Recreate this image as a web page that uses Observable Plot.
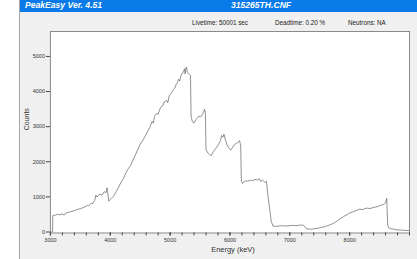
<!DOCTYPE html>
<html>
<head>
<meta charset="utf-8">
<script src="https://cdn.jsdelivr.net/npm/d3@7"></script>
<script src="https://cdn.jsdelivr.net/npm/@observablehq/plot@0.6"></script>
<style>
  html, body { margin: 0; padding: 0; background: #ffffff; }
  #win { position: absolute; left: 19px; top: 0; width: 398px; height: 259px; background: #f0f0f0; border-left: 1px solid #a8a8a8; box-sizing: border-box; font-family: "Liberation Sans", Arial, sans-serif; }
  #bar { position: absolute; left: 0; top: 0; width: 100%; height: 12px; background: #0a7ae8; color: #fff; font-style: italic; font-weight: bold; font-size: 8.6px; }
  #bar .l { position: absolute; left: 5px; top: 0px; }
  #bar .c { position: absolute; left: 241px; top: 0px; transform: translateX(-50%); }
  #info { position: absolute; left: 0; top: 12px; width: 100%; height: 18px; font-size: 6.3px; color: #222; }
  #info span { position: absolute; top: 7px; white-space: nowrap; }
  #chart { position: absolute; left: 0; top: 30px; }
</style>
</head>
<body>
<div id="win">
  <div id="bar"><span class="l">PeakEasy Ver. 4.51</span><span class="c">315265TH.CNF</span></div>
  <div id="info">
    <span style="left:172px">Livetime: 50001 sec</span>
    <span style="left:255px">Deadtime: 0.20 %</span>
    <span style="left:328px">Neutrons: NA</span>
  </div>
  <div id="chart"></div>
</div>
<script>
const energy = [3000,3035,3040,3080,3120,3160,3200,3230,3260,3300,3340,3380,3420,3460,3500,3540,3580,3620,3640,3680,3700,3740,3760,3780,3820,3860,3900,3930,3945,3960,3975,3990,4020,4060,4100,4140,4180,4220,4260,4300,
4340,4380,4420,4460,4500,4540,4580,4620,4660,4700,4720,4740,4780,4800,4840,4880,4900,4940,4960,4990,5020,5050,5080,5100,5120,5140,5160,5180,5200,5220,5240,5250,5270,5290,5310,5340,
5350,5370,5400,5430,5460,5480,5510,5540,5560,5575,5590,5600,5630,5660,5690,5720,5750,5780,5810,5840,5860,5880,5900,5920,5950,5980,6010,6040,6070,6100,6130,6160,6180,
6190,6210,6230,6260,6300,6340,6380,6420,6460,6490,6510,6540,6580,6610,6630,6660,6690,6720,6780,6850,6920,7000,7060,7120,7180,7230,7280,7350,7420,7500,7580,7650,7720,7780,7840,7900,7960,8000,8060,8100,8160,8220,8280,8340,8400,8460,8520,8570,8600,8620,8635,8650,8700,8800,8900,9000];
const counts = [0,0,470,480,500,490,520,480,540,560,580,600,620,650,660,690,720,760,740,820,800,900,1050,1000,1080,1050,1150,1120,1260,1100,880,900,960,1030,1150,1280,1420,1520,1680,1800,
1900,2050,2200,2350,2500,2600,2720,2850,2980,3150,3100,3300,3380,3350,3550,3600,3700,3750,3680,3900,3950,4050,4100,4200,4250,4350,4300,4450,4500,4560,4650,4500,4700,4550,4500,4460,
3300,3150,3100,3200,3250,3300,3280,3350,3420,3500,3380,2350,2250,2200,2180,2280,2350,2420,2500,2600,2750,2700,2780,2650,2480,2400,2330,2400,2480,2520,2550,2600,2450,
1450,1380,1420,1460,1440,1480,1460,1500,1480,1520,1440,1480,1420,1440,1100,700,300,170,160,180,170,180,190,180,200,190,90,80,95,120,150,190,240,300,380,440,500,540,580,600,650,640,680,670,700,720,760,790,830,960,200,120,90,60,50,40];
const yTicks = [0,1000,2000,3000,4000,5000];
const xTicks = [3000,4000,5000,6000,7000,8000];
const xMinor = d3.range(3000, 9001, 200);
const xLabel = "Energy (keV)";
const yLabel = "Counts";

const data = energy.map((e, i) => ({e, c: counts[i]}));

const chart = Plot.plot({
  width: 398,
  height: 229,
  marginLeft: 30,
  marginRight: 8,
  marginTop: 1,
  marginBottom: 26,
  style: { background: "#f0f0f0", fontFamily: "Liberation Sans, Arial, sans-serif", fontSize: "5.5px", color: "#333" },
  x: { domain: [3000, 9000] },
  y: { domain: [-28, 5710] },
  marks: [
    Plot.frame({ fill: "white" }),
    Plot.line(data, { x: "e", y: "c", stroke: "#606060", strokeWidth: 0.7 }),
    Plot.frame({ stroke: "#8a8a8a", strokeWidth: 1 }),
    Plot.axisX({ ticks: xMinor, tickFormat: () => "", tickSize: 3, stroke: "#444", label: null }),
    Plot.axisX({ ticks: xTicks, tickFormat: d => String(d), tickSize: 3, tickPadding: 2, stroke: "#444", label: null }),
    Plot.axisY({ ticks: yTicks, tickFormat: d => String(d), tickSize: 4, tickPadding: 1.5, stroke: "#444", label: null }),
    Plot.text([xLabel], { frameAnchor: "bottom", dy: 19, dx: 3, text: d => d, fontSize: 7.5, fill: "#333" }),
    Plot.text([yLabel], { frameAnchor: "left", dx: -24, dy: -2, rotate: -90, text: d => d, fontSize: 7, fill: "#333" })
  ]
});
document.getElementById("chart").appendChild(chart);
</script>
</body>
</html>
